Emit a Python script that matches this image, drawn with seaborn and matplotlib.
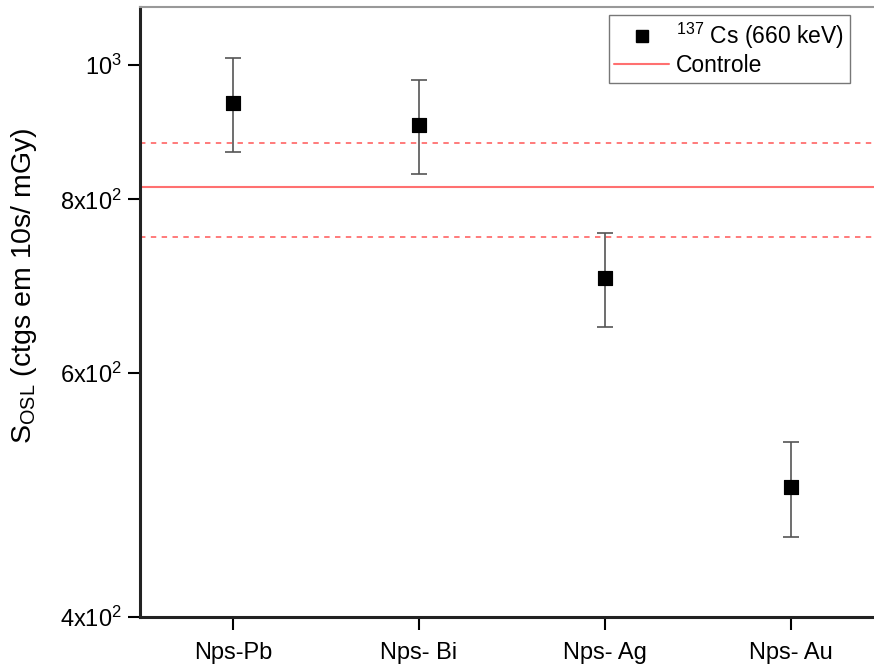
import matplotlib
matplotlib.use("Agg")
import matplotlib.pyplot as plt
import seaborn as sns
import pandas as pd
from matplotlib.lines import Line2D

# Samples and OSL sensitivity for 137Cs (660 keV)
samples = ["Nps-Pb", "Nps- Bi", "Nps- Ag", "Nps- Au"]
s_osl = [939, 905, 702, 496]
s_err = [73, 70, 55, 39]

# Control reference level and its uncertainty band
control = 817
control_upper = 879
control_lower = 752

ytick_values = [400, 600, 800, 1000]
ytick_labels = [r"$4\mathrm{x}10^2$", r"$6\mathrm{x}10^2$", r"$8\mathrm{x}10^2$", r"$10^3$"]

sns.set_style("white")
plt.rcParams["font.family"] = ["Liberation Sans", "DejaVu Sans"]
plt.rcParams["mathtext.fontset"] = "custom"
plt.rcParams["mathtext.rm"] = "Liberation Sans"
plt.rcParams["mathtext.it"] = "Liberation Sans:italic"
plt.rcParams["mathtext.bf"] = "Liberation Sans:bold"
plt.rcParams["text.color"] = "black"
plt.rcParams["axes.labelcolor"] = "black"
plt.rcParams["xtick.color"] = "black"
plt.rcParams["ytick.color"] = "black"

df = pd.DataFrame({"sample": samples, "s_osl": s_osl, "err": s_err})

fig = plt.figure(figsize=(8.74, 6.68), dpi=100)
ax = fig.add_axes([140 / 874, 51 / 668, 1 - 140 / 874, (617 - 7) / 668])

red = "#ff7070"
ax.axhline(control, color=red, lw=1.5, zorder=1)
ax.axhline(control_upper, color=red, lw=1.3, ls=(0, (3, 3)), zorder=1)
ax.axhline(control_lower, color=red, lw=1.3, ls=(0, (3, 3)), zorder=1)

ax.errorbar(range(len(samples)), df["s_osl"], yerr=df["err"], fmt="none",
            ecolor="#555555", elinewidth=1.2, capsize=6, capthick=1.2, zorder=2)
sns.scatterplot(data=df, x="sample", y="s_osl", marker="s", s=110,
                color="black", edgecolor="black", ax=ax, zorder=3, legend=False)

ax.set_yscale("log")
ax.set_ylim(400, 1101)
ax.set_xlim(-0.5, 3.446)
ax.set_yticks(ytick_values)
ax.set_yticklabels(ytick_labels)
ax.yaxis.set_minor_locator(matplotlib.ticker.NullLocator())
ax.set_xticks(range(len(samples)))
ax.set_xticklabels(samples)

ax.tick_params(axis="both", direction="out", length=9, width=1.5,
               labelsize=17, left=True, bottom=True)
ax.tick_params(axis="x", pad=9)
ax.tick_params(axis="y", pad=4)

ax.set_xlabel("")
ax.set_ylabel(r"S$_{\mathrm{OSL}}$ (ctgs em 10s/ mGy)", fontsize=20.5)
ax.yaxis.set_label_coords(-0.137, 0.543)

for side in ["left", "bottom"]:
    ax.spines[side].set_color("#222222")
    ax.spines[side].set_linewidth(2.2)
ax.spines["top"].set_color("#999999")
ax.spines["top"].set_linewidth(1.5)
ax.spines["right"].set_visible(False)

handles = [
    Line2D([], [], marker="s", color="black", ls="none", markersize=8),
    Line2D([], [], color=red, lw=1.5),
]
leg = ax.legend(handles, [r"$^{137}$ Cs (660 keV)", "Controle"], loc="upper right",
                bbox_to_anchor=(0.967, 0.987), fontsize=16.5, frameon=True,
                fancybox=False, edgecolor="#555555", handlelength=2.4,
                borderpad=0.25, labelspacing=0.15, handletextpad=0.3,
                borderaxespad=0.0)
leg.get_frame().set_linewidth(1.0)

fig.savefig("out.png", dpi=100)
